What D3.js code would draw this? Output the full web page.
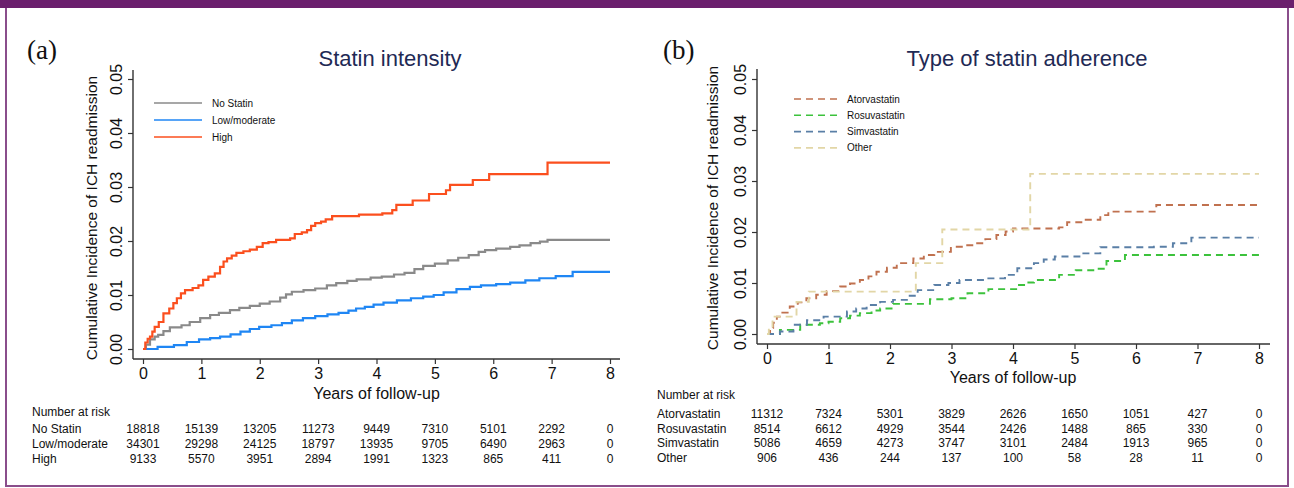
<!DOCTYPE html>
<html>
<head>
<meta charset="utf-8">
<script src="https://cdn.jsdelivr.net/npm/d3@7"></script>
<style>
  html, body { margin: 0; padding: 0; background: #fff; }
  svg { display: block; }
  text { font-family: "Liberation Sans", Arial, Helvetica, sans-serif; }
</style>
</head>
<body>
<svg id="chart" width="1294" height="488"></svg>
<script>
// ---------------- DATA ----------------
const yearTicks = [0, 1, 2, 3, 4, 5, 6, 7, 8];
const yTicks = [0, 0.01, 0.02, 0.03, 0.04, 0.05];

// Panel (a): Statin intensity
const groupsA = ["No Statin", "Low/moderate", "High"];
const riskNoStatin = [18818, 15139, 13205, 11273, 9449, 7310, 5101, 2292, 0];
const riskLowModerate = [34301, 29298, 24125, 18797, 13935, 9705, 6490, 2963, 0];
const riskHigh = [9133, 5570, 3951, 2894, 1991, 1323, 865, 411, 0];

const curveNoStatin = [[0,0],[0.05,0.0008],[0.12,0.0018],[0.2,0.0023],[0.26,0.0026],[0.35,0.0033],[0.46,0.0040],[0.66,0.0044],[0.8,0.0050],[0.98,0.0057],[1.15,0.0063],[1.3,0.0067],[1.49,0.0072],[1.65,0.0076],[1.83,0.0080],[2.0,0.0084],[2.17,0.0088],[2.35,0.0095],[2.45,0.0101],[2.55,0.0106],[2.75,0.0109],[2.95,0.0112],[3.15,0.0118],[3.31,0.0122],[3.5,0.0126],[3.66,0.0129],[3.9,0.0132],[4.09,0.0134],[4.3,0.0138],[4.48,0.0141],[4.65,0.0148],[4.8,0.0154],[5.0,0.0158],[5.22,0.0164],[5.4,0.0169],[5.58,0.0174],[5.75,0.0180],[5.86,0.0183],[6.05,0.0186],[6.29,0.0189],[6.45,0.0192],[6.64,0.0196],[6.8,0.0199],[6.93,0.0202],[8,0.0202]];
const curveLowModerate = [[0,0],[0.25,0.0004],[0.53,0.0007],[0.75,0.0013],[0.96,0.0018],[1.15,0.0020],[1.32,0.0023],[1.5,0.0027],[1.67,0.0032],[1.83,0.0037],[1.99,0.0041],[2.2,0.0044],[2.38,0.0048],[2.55,0.0053],[2.74,0.0057],[2.95,0.0061],[3.16,0.0064],[3.35,0.0067],[3.52,0.0071],[3.65,0.0075],[3.8,0.0078],[3.95,0.0082],[4.12,0.0086],[4.35,0.0090],[4.59,0.0094],[4.8,0.0097],[4.98,0.0100],[5.15,0.0105],[5.37,0.0111],[5.6,0.0115],[5.79,0.0118],[6.05,0.0120],[6.29,0.0123],[6.55,0.0127],[6.79,0.0131],[7.07,0.0135],[7.36,0.0143],[8,0.0143]];
const curveHigh = [[0,0],[0.04,0.0012],[0.08,0.0019],[0.12,0.0023],[0.16,0.0032],[0.2,0.0041],[0.27,0.0050],[0.35,0.0066],[0.45,0.0075],[0.52,0.0085],[0.58,0.0094],[0.65,0.0103],[0.72,0.0109],[0.85,0.0113],[0.95,0.0118],[1.03,0.0128],[1.12,0.0134],[1.23,0.0140],[1.32,0.0152],[1.38,0.0162],[1.44,0.0168],[1.52,0.0173],[1.6,0.0178],[1.72,0.0181],[1.83,0.0184],[1.95,0.0189],[2.05,0.0196],[2.15,0.0198],[2.28,0.0202],[2.52,0.0205],[2.6,0.0213],[2.72,0.0216],[2.81,0.0220],[2.88,0.0228],[2.95,0.0233],[3.05,0.0236],[3.13,0.0240],[3.24,0.0246],[3.7,0.0249],[4.1,0.0251],[4.27,0.0257],[4.34,0.0267],[4.62,0.0275],[4.9,0.0287],[5.19,0.0294],[5.26,0.0304],[5.65,0.0313],[5.93,0.0324],[6.93,0.0345],[8.0,0.0345]];

// Panel (b): Type of statin adherence
const groupsB = ["Atorvastatin", "Rosuvastatin", "Simvastatin", "Other"];
const riskAtorvastatin = [11312, 7324, 5301, 3829, 2626, 1650, 1051, 427, 0];
const riskRosuvastatin = [8514, 6612, 4929, 3544, 2426, 1488, 865, 330, 0];
const riskSimvastatin = [5086, 4659, 4273, 3747, 3101, 2484, 1913, 965, 0];
const riskOther = [906, 436, 244, 137, 100, 58, 28, 11, 0];

const curveAtorvastatin = [[0,0],[0.05,0.0012],[0.1,0.0022],[0.16,0.0034],[0.25,0.0042],[0.37,0.0054],[0.5,0.0062],[0.64,0.0070],[0.8,0.0077],[0.97,0.0084],[1.19,0.0093],[1.35,0.0099],[1.51,0.0106],[1.65,0.0113],[1.78,0.0122],[1.95,0.0130],[2.11,0.0139],[2.38,0.0148],[2.55,0.0155],[2.72,0.0161],[2.99,0.0171],[3.2,0.0174],[3.4,0.0178],[3.55,0.0186],[3.73,0.0194],[3.88,0.0201],[4.0,0.0207],[4.75,0.0209],[4.88,0.0219],[5.15,0.0224],[5.42,0.0233],[5.55,0.0240],[6.33,0.0253],[8,0.0253]];
const curveRosuvastatin = [[0,0],[0.21,0.0008],[0.54,0.0018],[0.86,0.0021],[1.0,0.0024],[1.19,0.0031],[1.35,0.0036],[1.51,0.0041],[1.7,0.0046],[1.84,0.0050],[2.05,0.0059],[2.65,0.0068],[3.0,0.0070],[3.26,0.0080],[3.6,0.0088],[4.07,0.0096],[4.25,0.0101],[4.34,0.0106],[4.75,0.0116],[5.02,0.0125],[5.35,0.0128],[5.52,0.0143],[5.82,0.0155],[8,0.0155]];
const curveSimvastatin = [[0,0],[0.21,0.0005],[0.43,0.0018],[0.65,0.0027],[0.92,0.0034],[1.3,0.0044],[1.45,0.0050],[1.62,0.0057],[1.84,0.0063],[2.05,0.0067],[2.3,0.0075],[2.45,0.0086],[2.72,0.0096],[2.95,0.0100],[3.13,0.0106],[3.53,0.0109],[3.87,0.0116],[4.07,0.0129],[4.34,0.0139],[4.5,0.0146],[4.68,0.0152],[5.08,0.0158],[5.42,0.0170],[6.29,0.0171],[6.6,0.0178],[6.9,0.0189],[8,0.0189]];
const curveOther = [[0,0],[0.03,0.0012],[0.09,0.0034],[0.48,0.0063],[0.68,0.0083],[2.42,0.0139],[2.85,0.0205],[4.28,0.0314],[8,0.0314]];

// ---------------- DRAWING ----------------
const svg = d3.select("#chart");
const purple = "#6b1f6d";

// frame
svg.append("rect").attr("x", 6).attr("y", 0).attr("width", 1282).attr("height", 486)
  .attr("fill", "none").attr("stroke", "#8a4d8b").attr("stroke-width", 2);
svg.append("rect").attr("x", 0).attr("y", 0).attr("width", 1294).attr("height", 8).attr("fill", purple);

function panel(cfg) {
  const g = svg.append("g");
  const x = d3.scaleLinear().domain([0, 8]).range(cfg.xRange);
  const y = d3.scaleLinear().domain([0, 0.05]).range(cfg.yRange);
  const axisColor = "#333";

  // letter + title
  g.append("text").attr("x", cfg.letterX).attr("y", 59)
    .style("font-family", "'Liberation Serif', 'Times New Roman', serif")
    .style("font-size", "27px").attr("fill", "#111").text(cfg.letter);
  g.append("text").attr("x", cfg.titleX).attr("y", 66).attr("text-anchor", "middle")
    .style("font-size", "22px").attr("fill", "#1f2a55").text(cfg.title);

  // axes
  const yAxis = d3.axisLeft(y).tickValues(yTicks).tickSize(5).tickPadding(6)
    .tickFormat(d3.format(".2f"));
  const ya = g.append("g").attr("transform", `translate(${cfg.axisX},0)`).call(yAxis);
  ya.select(".domain").remove();
  ya.selectAll(".tick line").attr("stroke", axisColor).attr("stroke-width", 1.2);
  ya.selectAll(".tick text")
    .attr("x", null).attr("dy", null)
    .attr("transform", `translate(${cfg.yLabelX - cfg.axisX},0) rotate(-90)`)
    .attr("text-anchor", "middle").attr("dominant-baseline", "central")
    .style("font-size", "16px").style("font-family", "'Liberation Sans', Arial, sans-serif")
    .attr("fill", "#111");

  const xAxis = d3.axisBottom(x).tickValues(yearTicks).tickSize(5).tickPadding(4)
    .tickFormat(d3.format("d"));
  const xa = g.append("g").attr("transform", `translate(0,${cfg.axisY})`).call(xAxis);
  xa.select(".domain").remove();
  xa.selectAll(".tick line").attr("stroke", axisColor).attr("stroke-width", 1.2);
  xa.selectAll(".tick text").style("font-size", "16px")
    .style("font-family", "'Liberation Sans', Arial, sans-serif").attr("fill", "#111");

  g.append("line").attr("x1", cfg.axisX).attr("x2", cfg.axisX)
    .attr("y1", cfg.axisTop).attr("y2", cfg.axisY)
    .attr("stroke", axisColor).attr("stroke-width", 1.4);
  g.append("line").attr("x1", cfg.axisX).attr("x2", cfg.axisRight)
    .attr("y1", cfg.axisY).attr("y2", cfg.axisY)
    .attr("stroke", axisColor).attr("stroke-width", 1.4);

  // axis titles
  g.append("text")
    .attr("transform", `translate(${cfg.yTitleX},${cfg.yTitleY}) rotate(-90)`)
    .attr("text-anchor", "middle").attr("dominant-baseline", "central")
    .style("font-size", "15.5px").attr("fill", "#111")
    .text("Cumulative Incidence of ICH readmission");
  g.append("text").attr("x", (cfg.xRange[0] + cfg.xRange[1]) / 2).attr("y", cfg.xTitleY)
    .attr("text-anchor", "middle").style("font-size", "16px").attr("fill", "#111")
    .text("Years of follow-up");

  // curves
  const line = d3.line().x(d => x(d[0])).y(d => y(d[1])).curve(d3.curveStepAfter);
  cfg.series.forEach(s => {
    g.append("path").datum(s.data).attr("d", line)
      .attr("fill", "none").attr("stroke", s.color).attr("stroke-width", cfg.lineWidth)
      .attr("stroke-dasharray", cfg.dash || null);
  });

  // legend
  cfg.series.forEach((s, i) => {
    const ly = cfg.legendY + i * cfg.legendStep;
    g.append("line").attr("x1", cfg.legendX).attr("x2", cfg.legendX + cfg.legendLen)
      .attr("y1", ly).attr("y2", ly).attr("stroke", s.color).attr("stroke-width", 1.6)
      .attr("stroke-dasharray", cfg.dash || null);
    g.append("text").attr("x", cfg.legendX + cfg.legendLen + 10).attr("y", ly)
      .attr("dominant-baseline", "central").style("font-size", "10px").attr("fill", "#111")
      .text(s.name);
  });

  // risk table
  g.append("text").attr("x", cfg.tableX).attr("y", cfg.tableHeadY)
    .style("font-size", "12px").attr("fill", "#111").text("Number at risk");
  cfg.series.forEach((s, i) => {
    const ry = cfg.tableRowY + i * cfg.tableStep;
    g.append("text").attr("x", cfg.tableX).attr("y", ry)
      .style("font-size", "12px").attr("fill", "#111").text(s.name);
    g.selectAll(null).data(s.risk).enter().append("text")
      .attr("x", (d, j) => x(yearTicks[j])).attr("y", ry)
      .attr("text-anchor", "middle").style("font-size", "12px").attr("fill", "#111")
      .text(d => d);
  });
}

panel({
  letter: "(a)", letterX: 27, title: "Statin intensity", titleX: 390,
  xRange: [143, 610], yRange: [349, 79],
  axisX: 133, axisY: 359, axisTop: 70, axisRight: 620,
  yLabelX: 116, yTitleX: 91, yTitleY: 218, xTitleY: 399,
  lineWidth: 2.2,
  series: [
    { name: groupsA[0], color: "#8a8a8a", data: curveNoStatin, risk: riskNoStatin },
    { name: groupsA[1], color: "#1f86f4", data: curveLowModerate, risk: riskLowModerate },
    { name: groupsA[2], color: "#fb4f1e", data: curveHigh, risk: riskHigh }
  ],
  legendX: 154, legendLen: 48, legendY: 103, legendStep: 17,
  tableX: 32, tableHeadY: 416, tableRowY: 433, tableStep: 15
});

panel({
  letter: "(b)", letterX: 663, title: "Type of statin adherence", titleX: 1027,
  xRange: [767, 1259], yRange: [334, 79],
  axisX: 757, axisY: 344, axisTop: 69, axisRight: 1270,
  yLabelX: 740, yTitleX: 712, yTitleY: 208, xTitleY: 383,
  lineWidth: 1.9, dash: "7,5",
  series: [
    { name: groupsB[0], color: "#c0714f", data: curveAtorvastatin, risk: riskAtorvastatin },
    { name: groupsB[1], color: "#3cc23c", data: curveRosuvastatin, risk: riskRosuvastatin },
    { name: groupsB[2], color: "#5a7fa6", data: curveSimvastatin, risk: riskSimvastatin },
    { name: groupsB[3], color: "#e2d6a6", data: curveOther, risk: riskOther }
  ],
  legendX: 794, legendLen: 43, legendY: 99, legendStep: 16.3,
  tableX: 657, tableHeadY: 399, tableRowY: 418, tableStep: 14.7
});
</script>
</body>
</html>
